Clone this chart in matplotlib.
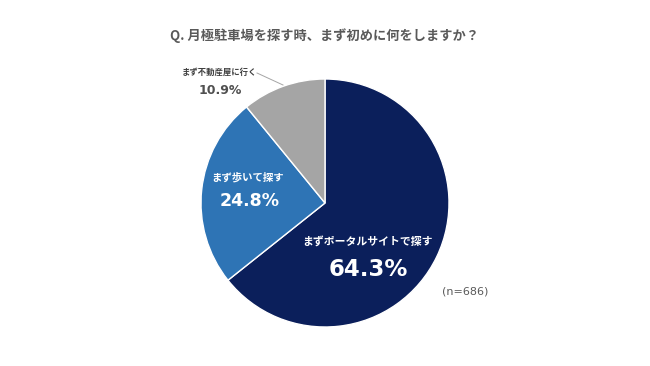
import matplotlib
matplotlib.use("Agg")
import matplotlib.pyplot as plt

plt.rcParams['font.family'] = ['Noto Sans CJK JP', 'DejaVu Sans']

# data
categories = ['まずポータルサイトで探す', 'まず歩いて探す', 'まず不動産屋に行く']
shares = [64.3, 24.8, 10.9]
colors = ['#0b1f5b', '#2e74b5', '#a5a5a5']
title = 'Q. 月極駐車場を探す時、まず初めに何をしますか？'
n_note = '(n=686)'

fig = plt.figure(figsize=(6.5, 3.66), dpi=100)
ax = fig.add_axes([0, 0, 1, 1])

# pie, clockwise from 12 o'clock (pixel coords, y flipped)
cx, cy, r = 325, 366 - 203, 124
ax.pie(shares, colors=colors, startangle=90, counterclock=False,
       center=(cx, cy), radius=r, frame=True,
       wedgeprops=dict(edgecolor='white', linewidth=1.0))
ax.set_xlim(0, 650)
ax.set_ylim(0, 366)
ax.set_aspect('equal')
ax.axis('off')

num_font = ['DejaVu Sans']

fig.text(0.5, 1 - 36 / 366, title, ha='center', va='center',
         fontsize=9.5, fontweight='bold', color='#595959')

# big slice
ax.text(367, 366 - 241, categories[0], ha='center', va='center',
        fontsize=7.8, fontweight='bold', color='white')
ax.text(368, 366 - 270, f'{shares[0]}%', ha='center', va='center',
        family=num_font, fontsize=16.5, fontweight='bold', color='white')

# second slice
ax.text(248, 366 - 177, categories[1], ha='center', va='center',
        fontsize=7.5, fontweight='bold', color='white')
ax.text(250, 366 - 201, f'{shares[1]}%', ha='center', va='center',
        family=num_font, fontsize=12.5, fontweight='bold', color='white')

# small slice, label outside with leader line
ax.text(219, 366 - 72, categories[2], ha='center', va='center',
        fontsize=6, fontweight='bold', color='#404040')
ax.text(220, 366 - 90, f'{shares[2]}%', ha='center', va='center',
        family=num_font, fontsize=9, fontweight='bold', color='#505050')
ax.plot([257, 283], [366 - 73, 366 - 85], color='#a5a5a5', lw=0.7)

ax.text(465, 366 - 292, n_note, ha='center', va='center',
        family=num_font, fontsize=8, color='#595959')

fig.savefig('out.png', dpi=100, facecolor='white')
